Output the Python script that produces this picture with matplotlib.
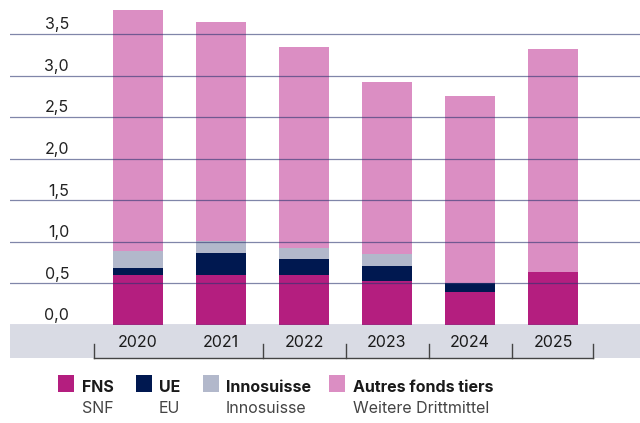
import matplotlib
matplotlib.use("Agg")
import matplotlib.pyplot as plt
from matplotlib.patches import Rectangle
from matplotlib.transforms import blended_transform_factory
import numpy as np

years = ["2020", "2021", "2022", "2023", "2024", "2025"]
fns = [0.60, 0.60, 0.60, 0.53, 0.40, 0.64]
ue = [0.09, 0.27, 0.19, 0.18, 0.10, 0.00]
inno = [0.20, 0.14, 0.14, 0.14, 0.00, 0.00]
autres = [2.90, 2.64, 2.41, 2.07, 2.25, 2.68]
yticks = [0.0, 0.5, 1.0, 1.5, 2.0, 2.5, 3.0, 3.5]
ytick_labels = ["0,0", "0,5", "1,0", "1,5", "2,0", "2,5", "3,0", "3,5"]
legend_fr = ["FNS", "UE", "Innosuisse", "Autres fonds tiers"]
legend_de = ["SNF", "EU", "Innosuisse", "Weitere Drittmittel"]
colors = ["#b41e7f", "#001850", "#b2b8cb", "#db8ec3"]

plt.rcParams['font.family'] = ['Inter', 'DejaVu Sans']

W, H = 640, 423
fig = plt.figure(figsize=(W / 100, H / 100), dpi=100)
px = 83.14  # pixels per unit
ax = fig.add_axes([10 / W, (H - 325) / H, 630 / W, 325 / H])
ax.set_ylim(0, 325 / px)
ax.set_xlim((10 - 138) / 83, (640 - 138) / 83)

x = np.arange(len(years))
series = [fns, ue, inno, autres]
bottom = np.zeros(len(years))
for vals, c in zip(series, colors):
    v = np.array(vals)
    ax.bar(x, v, bottom=bottom, width=50 / 83, color=c, zorder=1, linewidth=0)
    bottom += v

# gridlines
for t in yticks[1:]:
    ax.axhline(t, color="#2b3570", alpha=0.6, lw=0.9, zorder=3)
ax.axhline(0, color="#4a5180", lw=1.0, zorder=3)

for s in ax.spines.values():
    s.set_visible(False)
ax.set_xticks([])
ax.set_yticks([])

# y labels
for t, lab in zip(yticks, ytick_labels):
    ax.text((69 - 138) / 83, t + 0.02, lab, ha="right", va="bottom",
            fontsize=11.5, color="#222222", zorder=4)

# grey band below the axis
tr = blended_transform_factory(ax.transAxes, ax.transData)
ax.add_patch(Rectangle((0, -33 / px), 1, 33 / px, transform=tr,
                       facecolor="#d9dbe4", edgecolor="none", zorder=0.5,
                       clip_on=False))

# year labels
for xi, y in zip(x, years):
    ax.text(xi, (325 - 342) / px, y, ha="center", va="center", fontsize=11.5,
            color="#1a1a1a", clip_on=False, zorder=5)

# bracket
yb = (325 - 358) / px
yt = (325 - 344) / px
ax.plot([-0.53, 5.48], [yb, yb], color="#444444", lw=1, clip_on=False, zorder=5)
for bx in [-0.53, 1.5, 2.5, 3.5, 4.5, 5.48]:
    ax.plot([bx, bx], [yb, yt], color="#444444", lw=1, clip_on=False, zorder=5)

# legend
sq_x = [58, 136, 203, 329]
tx_x = [82, 159, 226, 353]
for sx, tx, c, fr, de in zip(sq_x, tx_x, colors, legend_fr, legend_de):
    fig.patches.append(Rectangle((sx / W, (H - 392) / H), 16 / W, 17 / H,
                                 transform=fig.transFigure, facecolor=c,
                                 edgecolor="none"))
    fig.text(tx / W, (H - 392) / H, fr, ha="left", va="baseline",
             fontsize=11.5, fontweight="bold", color="#1a1a1a")
    fig.text(tx / W, (H - 413) / H, de, ha="left", va="baseline",
             fontsize=11.5, color="#444444")

fig.savefig("out.png", dpi=100)
